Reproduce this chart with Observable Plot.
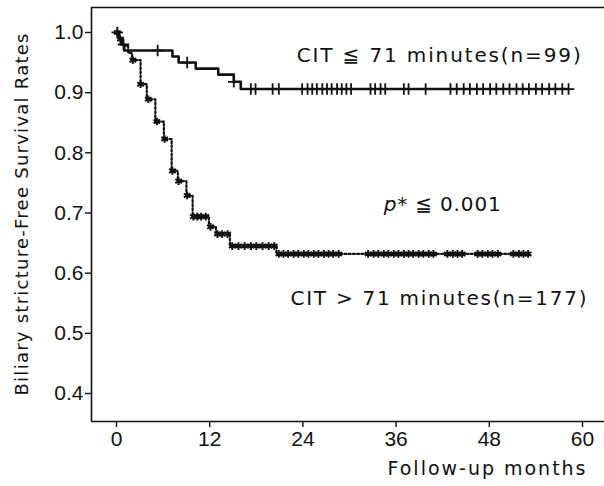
<!DOCTYPE html>
<html>
<head>
<meta charset="utf-8">
<script src="https://cdn.jsdelivr.net/npm/d3@7"></script>
<script src="https://cdn.jsdelivr.net/npm/@observablehq/plot@0.6"></script>
<style>
  html, body { margin: 0; padding: 0; background: #fff; }
  #chart svg { display: block; }
</style>
</head>
<body>
<div id="chart"></div>
<script>
// ---- Data ----
// CIT <= 71 minutes (n=99): step times (months) and survival after each step
const lowCitTimes = [0, 0.3, 0.6, 1.0, 7.2, 8.0, 10.2, 13.1, 15.1, 16.0];
const lowCitSurv  = [1.0, 0.99, 0.98, 0.97, 0.96, 0.95, 0.94, 0.93, 0.918, 0.906];
const lowCitEnd = 58.2;
const lowCitCensored = [0.1, 0.9, 5.3, 9.1, 15.1, 17.3, 17.9, 20.1, 20.9, 23.9, 24.6, 25.2, 25.8, 26.5,
  27.1, 27.7, 28.4, 29.0, 29.6, 30.2, 32.7, 33.3, 34.0, 34.6, 37.0, 37.6, 39.8, 43.0, 43.8, 44.7, 45.5,
  46.4, 47.2, 48.1, 48.9, 49.8, 50.6, 51.5, 52.3, 53.1, 54.0, 54.8, 55.7, 56.5, 57.4, 58.2];

// CIT > 71 minutes (n=177)
const highCitTimes = [0, 0.3, 0.8, 1.5, 2.0, 3.1, 3.9, 5.0, 6.1, 7.1, 7.9, 9.0, 9.8, 11.9, 12.8, 14.6, 20.6];
const highCitSurv  = [1.0, 0.989, 0.978, 0.966, 0.954, 0.914, 0.889, 0.852, 0.823, 0.770, 0.753, 0.729,
  0.694, 0.677, 0.665, 0.645, 0.632];
const highCitEnd = 53.0;
const highCitCensored = [0.1, 0.5, 2.1, 3.1, 4.1, 5.2, 6.2, 7.2, 8.0, 9.1, 9.9, 10.4, 10.9, 11.5, 12.1,
  13.0, 13.6, 14.3, 14.9, 15.7, 16.5, 17.3, 18.0, 18.8, 19.6, 20.3, 20.9, 21.5, 22.1, 22.8, 23.4, 24.1,
  24.7, 25.4, 26.0, 26.7, 27.3, 27.9, 28.6, 32.4, 33.1, 33.7, 34.4, 35.0, 35.7, 36.3, 37.0, 37.6, 38.2,
  38.9, 39.5, 40.2, 40.8, 42.6, 43.3, 43.9, 44.5, 46.5, 47.1, 47.8, 48.4, 49.1, 51.1, 51.8, 52.4, 53.0];

const xTicks = [0, 12, 24, 36, 48, 60];
const yTicks = [0.4, 0.5, 0.6, 0.7, 0.8, 0.9, 1.0];

const xTitle = "Follow-up months";
const yTitle = "Biliary stricture-Free Survival Rates";

const annoText = ["CIT ≦ 71 minutes(n=99)", "p* ≦ 0.001", "CIT > 71 minutes(n=177)"];
const annoX = [23.2, 34.4, 22.4];
const annoY = [0.962, 0.714, 0.557];

// ---- Build tables ----
function stepRows(times, surv, end) {
  const rows = times.map((t, i) => ({t, s: surv[i]}));
  rows.push({t: end, s: surv[surv.length - 1]});
  return rows;
}
function survAt(times, surv, t) {
  let s = surv[0];
  for (let i = 0; i < times.length; i++) if (times[i] <= t) s = surv[i];
  return s;
}
const lowLine = stepRows(lowCitTimes, lowCitSurv, lowCitEnd);
const highLine = stepRows(highCitTimes, highCitSurv, highCitEnd);
const lowMarks = lowCitCensored.map(t => ({t, s: survAt(lowCitTimes, lowCitSurv, t)}));
const highMarks = highCitCensored.map(t => ({t, s: survAt(highCitTimes, highCitSurv, t)}));
const annos = annoText.map((text, i) => ({text, x: annoX[i], y: annoY[i]}));

const xDomain = [-3.22, 62.83];
const yDomain = [0.3535, 1.0415];
const ink = "#111";
const labelFont = "'DejaVu Sans', 'Liberation Sans', sans-serif";

const chart = Plot.plot({
  width: 604,
  height: 486,
  marginLeft: 91,
  marginRight: 0,
  marginTop: 7,
  marginBottom: 65,
  style: {fontFamily: "'Liberation Sans', Arial, sans-serif", background: "#fff", color: ink},
  x: {domain: xDomain, ticks: xTicks},
  y: {domain: yDomain, ticks: yTicks},
  marks: [
    Plot.ruleX([xDomain[0]], {stroke: ink, strokeWidth: 1.6}),
    Plot.ruleY([yDomain[0]], {stroke: ink, strokeWidth: 1.6}),
    Plot.ruleY([yDomain[1]], {stroke: ink, strokeWidth: 1.4}),
    Plot.axisX({ticks: xTicks, tickSize: 6, tickPadding: 4, fontSize: 21, label: null, stroke: ink, strokeWidth: 1.4}),
    Plot.axisY({ticks: yTicks, tickSize: 6, tickPadding: 2, fontSize: 21, label: null, tickFormat: d3.format(".1f"), stroke: ink, strokeWidth: 1.4}),
    Plot.line(highLine, {x: "t", y: "s", curve: "step-after", stroke: ink, strokeWidth: 2.2, strokeDasharray: "2,2.2"}),
    Plot.line(lowLine, {x: "t", y: "s", curve: "step-after", stroke: ink, strokeWidth: 2.6}),
    Plot.dot(highMarks, {x: "t", y: "s", symbol: "asterisk", r: 3.6, stroke: ink, strokeWidth: 2}),
    Plot.dot(lowMarks, {x: "t", y: "s", symbol: "plus", r: 3.8, stroke: ink, strokeWidth: 1.8}),
    Plot.text(annos, {x: "x", y: "y", text: "text", textAnchor: "start", lineAnchor: "middle", fontSize: 20, fontFamily: labelFont, fill: ink}),
    Plot.text([yTitle], {frameAnchor: "left", dx: -69, rotate: -90, textAnchor: "middle", lineAnchor: "middle", fontSize: 18, fontFamily: labelFont, fill: ink}),
    Plot.text([xTitle], {frameAnchor: "bottom-right", dx: -19, dy: 47, textAnchor: "end", lineAnchor: "middle", fontSize: 19, fontFamily: labelFont, fill: ink})
  ]
});

// widths of the reference's lettering (its font sets wider)
const spans = new Map([
  ["CIT ≦ 71 minutes(n=99)", 284],
  ["p* ≦ 0.001", 117],
  ["CIT > 71 minutes(n=177)", 296],
  [yTitle, 362],
  [xTitle, 198]
]);
d3.select(chart).selectAll("text").each(function() {
  const txt = this.textContent;
  if (spans.has(txt)) {
    d3.select(this).attr("textLength", spans.get(txt)).attr("lengthAdjust", "spacing");
  }
  if (txt === "p* ≦ 0.001") {
    const sel = d3.select(this);
    sel.text(null);
    sel.append("tspan").attr("font-style", "italic").text("p");
    sel.append("tspan").text("* ≦ 0.001");
  }
});

document.getElementById("chart").appendChild(chart);
</script>
</body>
</html>
